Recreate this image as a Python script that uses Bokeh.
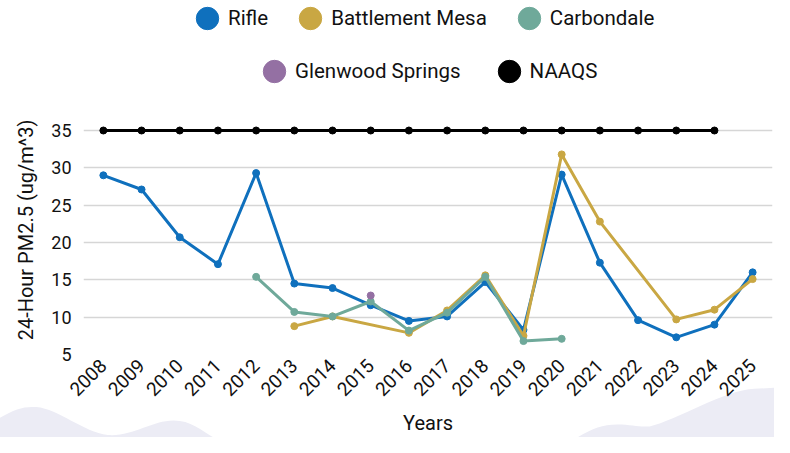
import math
from bokeh.plotting import figure
from bokeh.layouts import column
from bokeh.models import Legend, LegendItem, FixedTicker, Range1d
from bokeh.embed import file_html
from bokeh.resources import INLINE

# ---- data ----
years = list(range(2008, 2026))
rifle = [29.0, 27.1, 20.7, 17.1, 29.3, 14.5, 13.9, 11.6, 9.5, 10.1, 14.7, 8.3,
         29.1, 17.3, 9.6, 7.3, 9.0, 16.0]
battlement = [None, None, None, None, None, 8.8, 10.1, None, 7.9, 10.9, 15.6, 7.5,
              31.8, 22.8, None, 9.7, 11.0, 15.1]
carbondale = [None, None, None, None, 15.4, 10.7, 10.1, 12.1, 8.2, 10.6, 15.4, 6.8,
              7.1, None, None, None, None, None]
glenwood = [None, None, None, None, None, None, None, 12.9, None, None, None, None,
            None, None, None, None, None, None]
naaqs = [35, 35, 35, 35, 35, 35, 35, 35, 35, 35, 35, 35, 35, 35, 35, 35, 35, None]

series_names = ["Rifle", "Battlement Mesa", "Carbondale", "Glenwood Springs", "NAAQS"]
series_values = [rifle, battlement, carbondale, glenwood, naaqs]
series_colors = ["#0f70bd", "#c9a743", "#6fa99a", "#9470a3", "#000000"]
y_ticks = [5, 10, 15, 20, 25, 30, 35]

FONT = "Roboto"
TXT = "#111111"
W = 774
LEG_H = 105
MAIN_H = 437 - LEG_H

# ---------------- main chart ----------------
p = figure(width=W, height=MAIN_H, output_backend="svg", toolbar_location=None,
           x_range=Range1d(2007.48, 2025.52), y_range=Range1d(5, 38.35),
           min_border_left=83, min_border_right=2, min_border_bottom=83,
           min_border_top=0)
p.outline_line_color = None
p.background_fill_color = None
p.border_fill_color = None

p.xgrid.grid_line_color = None
p.ygrid.grid_line_color = "#d6d6d6"
p.ygrid.grid_line_width = 1.5

p.yaxis.ticker = FixedTicker(ticks=y_ticks)
p.xaxis.ticker = FixedTicker(ticks=years)
for ax in (p.xaxis[0], p.yaxis[0]):
    ax.axis_line_color = None
    ax.major_tick_line_color = None
    ax.minor_tick_line_color = None
    ax.major_tick_out = 0
    ax.major_tick_in = 0
    ax.minor_tick_out = 0
    ax.major_label_text_font = FONT
    ax.major_label_text_color = TXT
    ax.axis_label_text_font = FONT
    ax.axis_label_text_font_size = "20px"
    ax.axis_label_text_font_style = "normal"
    ax.axis_label_text_color = TXT
p.yaxis.major_label_text_font_size = "18px"
p.xaxis.major_label_text_font_size = "19px"
p.yaxis.axis_label = "24-Hour PM2.5 (ug/m^3)"
p.yaxis.major_label_standoff = 12
p.yaxis.axis_label_standoff = 10
p.xaxis.axis_label = "Years"
p.xaxis.major_label_orientation = math.pi / 4
p.xaxis.major_label_standoff = 8
p.xaxis.axis_label_standoff = 6

for name, vals, col in zip(series_names, series_values, series_colors):
    xs = [x for x, v in zip(years, vals) if v is not None]
    ys = [v for v in vals if v is not None]
    if len(xs) > 1:
        p.line(xs, ys, line_color=col, line_width=3)
    p.scatter(xs, ys, size=7, fill_color=col, line_color=col)

# ---------------- legend strip ----------------
lf = figure(width=W, height=LEG_H, output_backend="svg", toolbar_location=None,
            x_range=Range1d(0, 1), y_range=Range1d(0, 1),
            x_axis_type=None, y_axis_type=None,
            min_border_left=83, min_border_right=2, min_border_top=0,
            min_border_bottom=0)
lf.outline_line_color = None
lf.grid.grid_line_color = None
lf.background_fill_color = None
lf.border_fill_color = None

legend_items = []
for name, col in zip(series_names, series_colors):
    r = lf.ellipse(x=[-10], y=[-10], width=22, height=22,
                   width_units="screen", height_units="screen",
                   fill_color=col, line_color=col)
    legend_items.append(LegendItem(label=name, renderers=[r]))

def make_legend(items, loc, spacing):
    return Legend(items=items, orientation="horizontal", location=loc,
                  glyph_width=28, glyph_height=28,
                  label_standoff=7, spacing=spacing,
                  padding=0, margin=0,
                  label_text_font=FONT, label_text_font_size="20.5px",
                  label_text_color=TXT, border_line_color=None,
                  background_fill_alpha=0)

lf.add_layout(make_legend(legend_items[:3], (110, 73), 28), "center")
lf.add_layout(make_legend(legend_items[3:], (177, 20), 34), "center")

# decorative lavender hills behind the bottom of the chart
hills = ("<svg xmlns='http://www.w3.org/2000/svg' viewBox='0 0 790 453' "
         "preserveAspectRatio='none'><g fill='%23ececf5'>"
         "<path d='M0,433 C15,424 25,421 37,422 C60,424 85,448 110,451 "
         "C135,453 155,436 177,436 C195,436 205,446 217,453 L0,453 Z'/>"
         "<path d='M590,453 C605,444 615,440 630,440 C645,440 652,443 663,442 "
         "C690,436 740,404 770,403 L790,402 L790,453 Z'/></g></svg>")

layout = column(lf, p, spacing=0)
layout.styles = {"background-image": 'url("data:image/svg+xml;utf8,' + hills + '")',
                 "background-size": "100% 100%",
                 "background-repeat": "no-repeat"}
open("out.html", "w").write(file_html(layout, INLINE))
